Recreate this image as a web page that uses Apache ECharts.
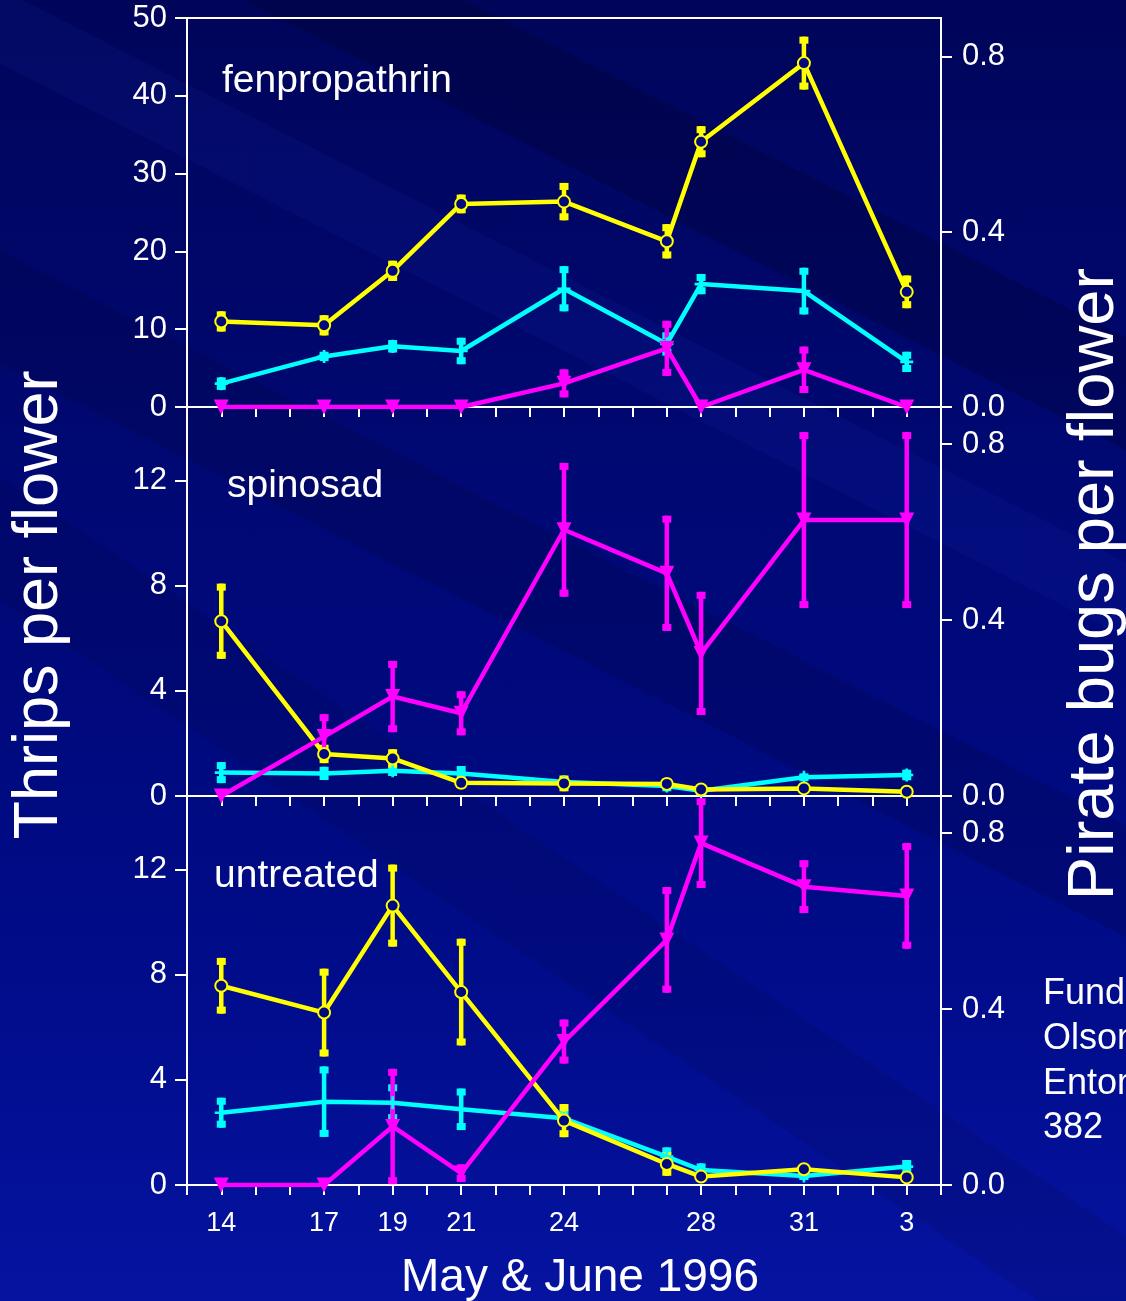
<!DOCTYPE html>
<html>
<head>
<meta charset="utf-8">
<title>Thrips and pirate bugs</title>
<script src="https://cdn.jsdelivr.net/npm/echarts@6/dist/echarts.min.js"></script>
<style>
  html, body { margin: 0; padding: 0; }
  body {
    width: 1126px; height: 1301px; overflow: hidden;
    background:
      linear-gradient(207deg, transparent 0 18%, rgba(0,0,40,0.28) 18% 24%, transparent 24% 30%, rgba(40,70,230,0.07) 30% 34%, transparent 34% 44%, rgba(0,0,45,0.18) 44% 50%, transparent 50% 100%),
      linear-gradient(214deg, transparent 0 60%, rgba(0,0,40,0.12) 60% 66%, transparent 66% 100%),
      linear-gradient(180deg, #00055a 0%, #000872 35%, #000b86 70%, #0513a0 100%);
  }
  #main { width: 1126px; height: 1301px; }
</style>
</head>
<body>
<div id="main"></div>
<script>
// sampling days (May; June 3 = day 34)
const days = [14, 17, 19, 21, 24, 27, 28, 31, 34]
const tickDays = [14, 17, 19, 21, 24, 28, 31, 34]
const tickNames = ['14', '17', '19', '21', '24', '28', '31', '3']

// fenpropathrin
const fenYellow = [11.0, 10.5, 17.5, 26.1, 26.4, 21.3, 34.1, 44.2, 14.8]
const fenYellowSE = [1.3, 1.3, 1.3, 1.2, 2.4, 2.2, 2.0, 3.4, 2.1]
const fenCyan = [3.0, 6.5, 7.8, 7.2, 15.2, 8.1, 15.8, 14.9, 5.8]
const fenCyanSE = [0.8, 0.6, 0.8, 1.7, 2.9, 1.5, 1.3, 3.0, 1.3]
const fenMagenta = [0, 0, 0, 0, 0.054, 0.134, 0, 0.085, 0]
const fenMagentaSE = [0, 0, 0, 0, 0.032, 0.063, 0, 0.053, 0]

// spinosad
const spinYellow = [6.65, 1.6, 1.43, 0.5, 0.48, 0.46, 0.25, 0.29, 0.16]
const spinYellowSE = [1.43, 0.35, 0.35, 0.2, 0.3, 0.2, 0.1, 0.1, 0.1]
const spinCyan = [0.89, 0.86, 0.96, 0.86, 0.53, 0.38, 0.2, 0.71, 0.8]
const spinCyanSE = [0.4, 0.25, 0.2, 0.28, 0.2, 0.2, 0.1, 0.15, 0.2]
const spinMagenta = [0, 0.135, 0.226, 0.188, 0.605, 0.506, 0.324, 0.627, 0.627]
const spinMagentaSE = [0, 0.051, 0.081, 0.05, 0.152, 0.131, 0.14, 0.2, 0.2]

// untreated
const untYellow = [7.58, 6.56, 10.63, 7.34, 2.45, 0.8, 0.32, 0.6, 0.29]
const untYellowSE = [1.06, 1.67, 1.56, 2.03, 0.63, 0.45, 0.1, 0.1, 0.1]
const untCyan = [2.75, 3.17, 3.13, 2.88, 2.54, 1.08, 0.57, 0.34, 0.7]
const untCyanSE = [0.57, 1.34, 0.7, 0.79, 0.3, 0.35, 0.25, 0.15, 0.25]
const untMagenta = [0, 0, 0.133, 0.027, 0.326, 0.557, 0.777, 0.678, 0.657]
const untMagentaSE = [0, 0, 0.131, 0.02, 0.05, 0.12, 0.102, 0.06, 0.12]

const panelNames = ['fenpropathrin', 'spinosad', 'untreated']
const leftMax = [50, 14.8, 14.8]
const leftTicks = [[0, 10, 20, 30, 40, 50], [0, 4, 8, 12], [0, 4, 8, 12]]
const rightMax = [0.889, 0.884, 0.884]
const rightTicks = [0, 0.4, 0.8]

const panels = [
  { yellow: fenYellow, yellowSE: fenYellowSE, cyan: fenCyan, cyanSE: fenCyanSE, magenta: fenMagenta, magentaSE: fenMagentaSE },
  { yellow: spinYellow, yellowSE: spinYellowSE, cyan: spinCyan, cyanSE: spinCyanSE, magenta: spinMagenta, magentaSE: spinMagentaSE },
  { yellow: untYellow, yellowSE: untYellowSE, cyan: untCyan, cyanSE: untCyanSE, magenta: untMagenta, magentaSE: untMagentaSE }
]

const FONT = '"Liberation Sans", Arial, Helvetica, sans-serif'
const YELLOW = '#ffff00'
const CYAN = '#00ffff'
const MAGENTA = '#ff00ff'
const WHITE = '#ffffff'

const gridTops = [18, 407, 796]
const allDays = []
for (let d = 13; d <= 35; d++) allDays.push(d)

function errorBars(params, api) {
  const x = api.value(0)
  const lo = api.value(1)
  const hi = api.value(2)
  if (!(hi > lo)) return null
  const top = api.coord([x, hi])
  const bot = api.coord([x, lo])
  const c = api.visual('color')
  return {
    type: 'group',
    children: [
      { type: 'line', shape: { x1: top[0], y1: top[1], x2: bot[0], y2: bot[1] }, style: { stroke: c, lineWidth: 4.5 } },
      { type: 'rect', shape: { x: top[0] - 4.5, y: top[1], width: 9, height: 7 }, style: { fill: c } },
      { type: 'rect', shape: { x: bot[0] - 4.5, y: bot[1] - 7, width: 9, height: 7 }, style: { fill: c } }
    ]
  }
}

const grid = []
const xAxis = []
const yAxis = []
const series = []

gridTops.forEach((top, g) => {
  grid.push({
    left: 187, top: top, width: 754, height: 389,
    show: g === 0, borderColor: WHITE, borderWidth: 2, backgroundColor: 'transparent',
    outerBoundsMode: 'none'
  })
  xAxis.push({
    type: 'value', gridIndex: g, min: 13, max: 35,
    axisLine: { show: true, onZero: false, lineStyle: { color: WHITE, width: 2 } },
    axisTick: { show: true, inside: false, length: 10, customValues: allDays, lineStyle: { color: WHITE, width: 2 } },
    axisLabel: {
      show: g === 2, color: WHITE, fontSize: 27, fontFamily: FONT, margin: 25,
      customValues: tickDays,
      formatter: v => tickNames[tickDays.indexOf(v)] || ''
    },
    splitLine: { show: false }
  })
  yAxis.push({
    type: 'value', gridIndex: g, position: 'left', min: 0, max: leftMax[g],
    axisLine: { show: true, lineStyle: { color: WHITE, width: 2 } },
    axisTick: { show: true, length: 12, customValues: leftTicks[g], lineStyle: { color: WHITE, width: 2 } },
    axisLabel: { color: WHITE, fontSize: 31, fontFamily: FONT, margin: 20, customValues: leftTicks[g] },
    splitLine: { show: false }
  })
  yAxis.push({
    type: 'value', gridIndex: g, position: 'right', min: 0, max: rightMax[g],
    axisLine: { show: true, lineStyle: { color: WHITE, width: 2 } },
    axisTick: { show: true, length: 11, customValues: rightTicks, lineStyle: { color: WHITE, width: 2 } },
    axisLabel: { color: WHITE, fontSize: 31, fontFamily: FONT, margin: 21, customValues: rightTicks, formatter: v => v.toFixed(1) },
    splitLine: { show: false }
  })

  const p = panels[g]
  const defs = [
    { vals: p.cyan, se: p.cyanSE, color: CYAN, y: 2 * g, symbol: 'path://M4,0h2v4h4v2h-4v4h-2v-4h-4v-2h4z', size: 13, rotate: 0 },
    { vals: p.yellow, se: p.yellowSE, color: YELLOW, y: 2 * g, symbol: 'circle', size: 12, rotate: 0 },
    { vals: p.magenta, se: p.magentaSE, color: MAGENTA, y: 2 * g + 1, symbol: 'triangle', size: 15, rotate: 180 }
  ]
  defs.forEach(d => {
    series.push({
      type: 'custom', xAxisIndex: g, yAxisIndex: d.y,
      renderItem: errorBars, itemStyle: { color: d.color }, z: 2, silent: true,
      data: days.map((day, i) => [day, d.vals[i] - d.se[i], d.vals[i] + d.se[i]])
    })
  })
  defs.forEach(d => {
    const hollow = d.symbol === 'circle'
    series.push({
      type: 'line', xAxisIndex: g, yAxisIndex: d.y, z: 3,
      symbol: d.symbol, symbolSize: d.size, symbolRotate: d.rotate, showAllSymbol: true,
      lineStyle: { color: d.color, width: 4.5 },
      itemStyle: hollow ? { color: '#000a7c', borderColor: d.color, borderWidth: 2 } : { color: d.color, borderWidth: 0 },
      emphasis: { disabled: true },
      data: days.map((day, i) => [day, d.vals[i]])
    })
  })
})

const textStyle = (text, size) => ({ text: text, fill: WHITE, font: size + 'px ' + FONT })

const graphic = [
  { type: 'text', x: 40, y: 605, rotation: Math.PI / 2, style: Object.assign(textStyle('Thrips per flower', 63), { textAlign: 'center', textVerticalAlign: 'middle' }) },
  { type: 'text', x: 1095, y: 584, rotation: Math.PI / 2, style: Object.assign(textStyle('Pirate bugs per flower', 65), { textAlign: 'center', textVerticalAlign: 'middle' }) },
  { type: 'text', x: 580, y: 1278, style: Object.assign(textStyle('May & June 1996', 46), { textAlign: 'center', textVerticalAlign: 'middle' }) },
  { type: 'text', x: 222, y: 81, style: Object.assign(textStyle(panelNames[0], 39), { textAlign: 'left', textVerticalAlign: 'middle' }) },
  { type: 'text', x: 227, y: 486, style: Object.assign(textStyle(panelNames[1], 39), { textAlign: 'left', textVerticalAlign: 'middle' }) },
  { type: 'text', x: 214, y: 876, style: Object.assign(textStyle(panelNames[2], 39), { textAlign: 'left', textVerticalAlign: 'middle' }) },
  { type: 'text', x: 1043, y: 994, style: Object.assign(textStyle('Funded', 36), { textAlign: 'left', textVerticalAlign: 'middle' }) },
  { type: 'text', x: 1043, y: 1039, style: Object.assign(textStyle('Olson', 36), { textAlign: 'left', textVerticalAlign: 'middle' }) },
  { type: 'text', x: 1043, y: 1084, style: Object.assign(textStyle('Entomol', 36), { textAlign: 'left', textVerticalAlign: 'middle' }) },
  { type: 'text', x: 1043, y: 1128, style: Object.assign(textStyle('382', 36), { textAlign: 'left', textVerticalAlign: 'middle' }) }
]

const chart = echarts.init(document.getElementById('main'), null, { renderer: 'canvas' })
chart.setOption({
  backgroundColor: 'transparent',
  animation: false,
  textStyle: { fontFamily: FONT },
  grid: grid,
  xAxis: xAxis,
  yAxis: yAxis,
  series: series,
  graphic: graphic
})
</script>
</body>
</html>
